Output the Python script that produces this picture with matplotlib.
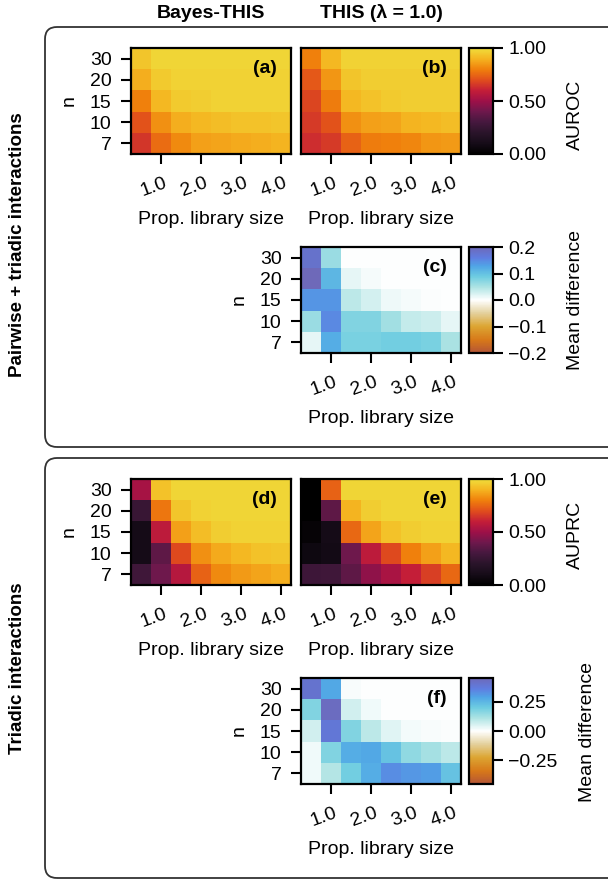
import numpy as np
import matplotlib
matplotlib.use("Agg")
import matplotlib.pyplot as plt
from matplotlib.colors import LinearSegmentedColormap
from matplotlib.patches import FancyBboxPatch
from matplotlib.transforms import ScaledTranslation

plt.rcParams['font.family'] = ['Liberation Sans', 'DejaVu Sans']

# data (rows: n = 30, 20, 15, 10, 7 ; cols: prop. library size 0.5 .. 4.0)
n_values = [30, 20, 15, 10, 7]
lib_sizes = [0.5, 1.0, 1.5, 2.0, 2.5, 3.0, 3.5, 4.0]

auroc_bayes = [
    [0.94, 0.98, 0.98, 0.98, 0.98, 0.98, 0.98, 0.98],
    [0.89, 0.95, 0.97, 0.97, 0.97, 0.97, 0.97, 0.97],
    [0.80, 0.91, 0.95, 0.96, 0.97, 0.97, 0.97, 0.97],
    [0.71, 0.83, 0.89, 0.91, 0.92, 0.93, 0.93, 0.94],
    [0.65, 0.76, 0.82, 0.86, 0.87, 0.88, 0.89, 0.90],
]
auroc_this = [
    [0.80, 0.91, 0.97, 0.97, 0.97, 0.97, 0.97, 0.97],
    [0.72, 0.84, 0.94, 0.96, 0.96, 0.96, 0.96, 0.96],
    [0.68, 0.79, 0.91, 0.93, 0.95, 0.96, 0.96, 0.96],
    [0.66, 0.71, 0.83, 0.86, 0.87, 0.90, 0.91, 0.92],
    [0.63, 0.66, 0.74, 0.79, 0.80, 0.81, 0.84, 0.85],
]
auroc_diff = [
    [0.18, 0.06, 0.00, 0.00, 0.00, 0.00, 0.00, 0.00],
    [0.20, 0.11, 0.015, 0.005, 0.00, 0.00, 0.00, 0.00],
    [0.14, 0.14, 0.04, 0.025, 0.01, 0.005, 0.003, 0.00],
    [0.06, 0.15, 0.075, 0.075, 0.055, 0.035, 0.03, 0.015],
    [0.015, 0.12, 0.08, 0.08, 0.085, 0.085, 0.08, 0.05],
]
auprc_bayes = [
    [0.52, 0.93, 0.98, 0.98, 0.98, 0.98, 0.98, 0.98],
    [0.25, 0.78, 0.94, 0.97, 0.98, 0.98, 0.98, 0.98],
    [0.10, 0.58, 0.86, 0.92, 0.96, 0.97, 0.97, 0.97],
    [0.10, 0.36, 0.69, 0.83, 0.88, 0.91, 0.93, 0.94],
    [0.28, 0.40, 0.56, 0.74, 0.82, 0.85, 0.87, 0.89],
]
auprc_this = [
    [0.00, 0.74, 0.98, 0.98, 0.98, 0.98, 0.98, 0.98],
    [0.00, 0.36, 0.90, 0.96, 0.98, 0.98, 0.98, 0.98],
    [0.03, 0.10, 0.75, 0.87, 0.93, 0.96, 0.97, 0.97],
    [0.07, 0.09, 0.40, 0.58, 0.69, 0.80, 0.86, 0.91],
    [0.27, 0.28, 0.36, 0.47, 0.53, 0.60, 0.67, 0.75],
]
auprc_diff = [
    [0.40, 0.28, 0.01, 0.00, 0.00, 0.00, 0.00, 0.00],
    [0.17, 0.43, 0.06, 0.02, 0.00, 0.00, 0.00, 0.00],
    [0.06, 0.38, 0.17, 0.09, 0.04, 0.015, 0.01, 0.005],
    [0.02, 0.17, 0.27, 0.28, 0.22, 0.15, 0.12, 0.09],
    [0.02, 0.10, 0.19, 0.27, 0.33, 0.31, 0.30, 0.22],
]

W, H = 608, 882

def rgb(stops):
    return [(p, tuple(c / 255 for c in col)) for p, col in stops]

score_cmap = LinearSegmentedColormap.from_list("score", rgb([
    (0.0, (0, 0, 0)), (0.1, (22, 12, 24)), (0.2, (42, 20, 42)), (0.3, (70, 24, 62)),
    (0.4, (110, 24, 76)), (0.5, (158, 16, 72)), (0.6, (196, 30, 56)), (0.7, (225, 78, 28)),
    (0.8, (240, 128, 12)), (0.9, (245, 180, 32)), (1.0, (240, 222, 60))]))
diff_cmap = LinearSegmentedColormap.from_list("diff", rgb([
    (0.0, (180, 85, 55)), (0.12, (215, 120, 25)), (0.25, (220, 165, 50)), (0.38, (228, 210, 160)),
    (0.5, (255, 255, 255)), (0.62, (175, 228, 228)), (0.72, (110, 205, 225)), (0.82, (80, 165, 230)),
    (0.9, (95, 125, 225)), (1.0, (110, 105, 185))]))

fig = plt.figure(figsize=(W / 100, H / 100), dpi=100)


def box(x0, y0, x1, y1):
    return [x0 / W, 1 - y1 / H, (x1 - x0) / W, (y1 - y0) / H]


# rounded panels
for top, bot in [(27, 447), (458, 878)]:
    p = FancyBboxPatch((45 / 100, (H - bot) / 100), (640 - 45) / 100, (bot - top) / 100,
                       boxstyle="round,pad=0,rounding_size=0.12", transform=fig.dpi_scale_trans,
                       fill=False, edgecolor="#333333", linewidth=1.3)
    fig.patches.append(p)

FS = 14


def heat(x0, y0, data, cmap, vmin, vmax, label, left=True):
    ax = fig.add_axes(box(x0, y0, x0 + 160, y0 + 106))
    im = ax.imshow(np.array(data), cmap=cmap, vmin=vmin, vmax=vmax, aspect="auto",
                   interpolation="nearest")
    ax.set_xticks([1, 3, 5, 7])
    ax.set_xticklabels(["1.0", "2.0", "3.0", "4.0"], rotation=20, fontsize=FS)
    if left:
        ax.set_yticks(range(len(n_values)))
        ax.set_yticklabels([str(v) for v in n_values], fontsize=FS)
        ax.set_ylabel("n", fontsize=FS, labelpad=9)
    else:
        ax.set_yticks([])
    ax.tick_params(axis="both", length=7, width=1.5, color="black")
    ax.tick_params(axis="y", pad=7)
    ax.tick_params(axis="x", pad=8)
    for t in ax.get_xticklabels():
        t.set_transform(t.get_transform() + ScaledTranslation(-0.07, 0, fig.dpi_scale_trans))
    for s in ax.spines.values():
        s.set_linewidth(1.6)
    ax.set_xlabel("Prop. library size", fontsize=FS, labelpad=8)
    ax.text(0.91, 0.81, label, transform=ax.transAxes, ha="right", va="center",
            fontsize=FS, fontweight="bold")
    return im


def cbar(im, y0, ticks, labels, title, tx, ty):
    cax = fig.add_axes(box(469, y0, 493, y0 + 106))
    cb = fig.colorbar(im, cax=cax)
    cb.set_ticks(ticks)
    cb.set_ticklabels(labels)
    cb.outline.set_linewidth(1.6)
    cax.tick_params(length=7, width=1.5, labelsize=FS, pad=4)
    fig.text(tx / W, 1 - ty / H, title, rotation=90, ha="center", va="center", fontsize=FS)


im_a = heat(131, 48, auroc_bayes, score_cmap, 0, 1, "(a)")
im_b = heat(301, 48, auroc_this, score_cmap, 0, 1, "(b)", left=False)
cbar(im_b, 48, [0, 0.5, 1], ["0.00", "0.50", "1.00"], "AUROC", 575, 115)
im_c = heat(301, 247, auroc_diff, diff_cmap, -0.2, 0.2, "(c)")
cbar(im_c, 247, [-0.2, -0.1, 0, 0.1, 0.2], ["\u22120.2", "\u22120.1", "0.0", "0.1", "0.2"],
     "Mean difference", 576, 300)

im_d = heat(131, 479, auprc_bayes, score_cmap, 0, 1, "(d)")
im_e = heat(301, 479, auprc_this, score_cmap, 0, 1, "(e)", left=False)
cbar(im_e, 479, [0, 0.5, 1], ["0.00", "0.50", "1.00"], "AUPRC", 575, 535)
im_f = heat(301, 678, auprc_diff, diff_cmap, -0.45, 0.45, "(f)")
cbar(im_f, 678, [-0.25, 0, 0.25], ["\u22120.25", "0.00", "0.25"], "Mean difference", 588, 732)

# column / row titles
fig.text(211 / W, 1 - 13 / H, "Bayes-THIS", ha="center", va="center", fontsize=FS, fontweight="bold")
fig.text(381 / W, 1 - 13 / H, "THIS (\u03bb = 1.0)", ha="center", va="center", fontsize=FS,
         fontweight="bold")
fig.text(18 / W, 1 - 245 / H, "Pairwise + triadic interactions", rotation=90, ha="center",
         va="center", fontsize=FS - 0.5, fontweight="bold")
fig.text(18 / W, 1 - 668 / H, "Triadic interactions", rotation=90, ha="center", va="center",
         fontsize=FS - 0.5, fontweight="bold")

fig.savefig("out.png", dpi=100)
